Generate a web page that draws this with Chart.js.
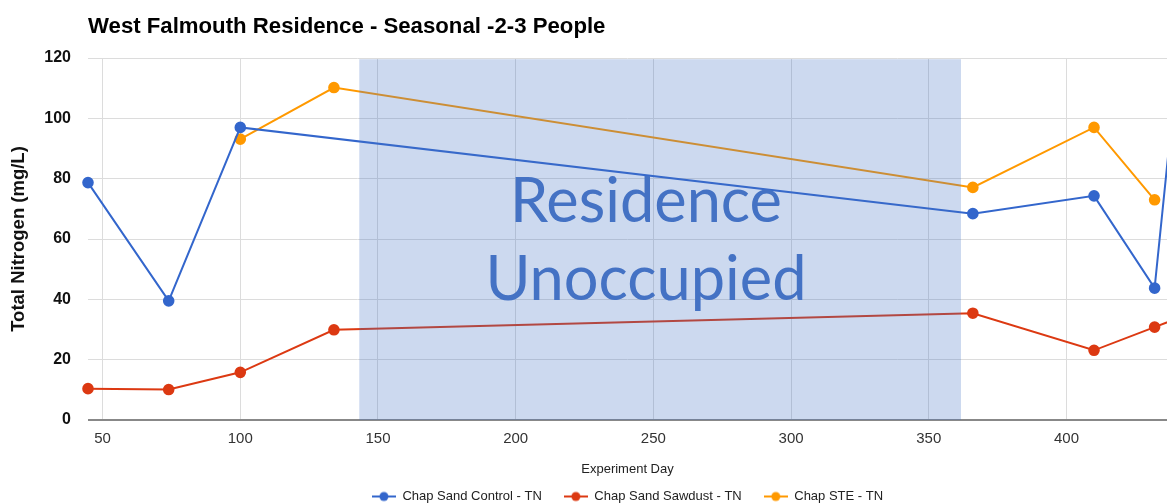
<!DOCTYPE html>
<html>
<head>
<meta charset="utf-8">
<script src="https://cdn.jsdelivr.net/npm/chart.js@4/dist/chart.umd.min.js"></script>
<style>
  html, body { margin: 0; padding: 0; background: #fff; }
  #wrap { width: 1167px; height: 504px; position: relative; }
</style>
</head>
<body>
<div id="wrap"><canvas id="c" width="1167" height="504"></canvas></div>
<script>
// ---- data ----
const chartTitle = 'West Falmouth Residence - Seasonal -2-3 People';
const days      = [44.7, 74, 100, 134, 366, 410, 432, 440];
const controlTN = [78.7, 39.5, 97.0, null, 68.4, 74.3, 43.7, 115.3];
const sawdustTN = [10.4, 10.1, 15.8, 29.9, 35.4, 23.1, 30.8, 33.6];
const steTN     = [null, null, 93.1, 110.2, 77.1, 97.0, 73.0, null];
const seriesNames = ['Chap Sand Control - TN', 'Chap Sand Sawdust - TN', 'Chap STE - TN'];
const xRange = [44.7, 436.5];
const yRange = [0, 120];
const xStep = 50;
const yStep = 20;
const unoccupiedSpan = [143.2, 361.7];
const unoccupiedLabel = ['Residence', 'Unoccupied'];

const colors = ['#3366CC', '#DC3912', '#FF9900'];
const FONT = "Arial, 'Liberation Sans', sans-serif";

function toPoints(vals) {
  const out = [];
  vals.forEach((v, i) => { if (v !== null) out.push({x: days[i], y: v}); });
  return out;
}

function legendIcon(color) {
  const cv = document.createElement('canvas');
  cv.width = 24; cv.height = 12;
  const g = cv.getContext('2d');
  g.strokeStyle = color; g.lineWidth = 2;
  g.beginPath(); g.moveTo(0, 6); g.lineTo(24, 6); g.stroke();
  g.fillStyle = color;
  g.beginPath(); g.arc(12, 6, 4.5, 0, Math.PI * 2); g.fill();
  return cv;
}
const icons = colors.map(legendIcon);

const overlayPlugin = {
  id: 'overlay',
  afterDatasetsDraw(chart) {
    const {ctx, scales} = chart;
    const x0 = scales.x.getPixelForValue(unoccupiedSpan[0]);
    const x1 = scales.x.getPixelForValue(unoccupiedSpan[1]);
    const yTop = scales.y.getPixelForValue(119.6);
    const yBot = scales.y.getPixelForValue(0);
    ctx.save();
    ctx.fillStyle = 'rgba(68,114,196,0.27)';
    ctx.fillRect(x0, yTop, x1 - x0, yBot - yTop);
    ctx.fillStyle = '#4472C4';
    ctx.textAlign = 'center';
    ctx.textBaseline = 'alphabetic';
    ctx.font = "100px Lato, 'Open Sans', sans-serif";
    const w = ctx.measureText(unoccupiedLabel[0]).width;
    const size = 100 * 272 / w;
    ctx.font = size.toFixed(1) + "px Lato, 'Open Sans', sans-serif";
    const cx = scales.x.getPixelForValue(247.3);
    ctx.fillText(unoccupiedLabel[0], cx, scales.y.getPixelForValue(65.7));
    ctx.fillText(unoccupiedLabel[1], cx, scales.y.getPixelForValue(39.8));
    ctx.restore();
  },
  afterDraw(chart) {
    const {ctx, chartArea} = chart;
    ctx.save();
    ctx.fillStyle = '#000';
    ctx.font = 'bold 22.2px ' + FONT;
    ctx.textAlign = 'left';
    ctx.textBaseline = 'alphabetic';
    ctx.fillText(chartTitle, chartArea.left, 33);
    ctx.restore();
  }
};

const mkSet = (label, vals, i) => ({
  label, data: toPoints(vals),
  borderColor: colors[i], backgroundColor: colors[i],
  pointBackgroundColor: colors[i], pointBorderColor: colors[i],
  borderWidth: 2, pointRadius: 4.8, pointHoverRadius: 5,
  tension: 0, spanGaps: true, fill: false,
  clip: { left: 8, top: 8, right: 0, bottom: 8 }
});

new Chart(document.getElementById('c'), {
  type: 'line',
  data: {
    datasets: [
      mkSet(seriesNames[0], controlTN, 0),
      mkSet(seriesNames[1], sawdustTN, 1),
      mkSet(seriesNames[2], steTN, 2)
    ]
  },
  options: {
    responsive: false,
    animation: false,
    layout: { autoPadding: false, padding: { top: 58, left: 0, right: 0, bottom: 0 } },
    plugins: {
      title: { display: false },
      tooltip: { enabled: false },
      legend: {
        position: 'bottom',
        fullSize: false,
        maxHeight: 36,
        labels: {
          usePointStyle: true,
          pointStyleWidth: 24,
          boxHeight: 12,
          padding: 22,
          color: '#222',
          font: { family: FONT, size: 13 },
          generateLabels(chart) {
            return chart.data.datasets.map((ds, i) => ({
              text: ds.label, pointStyle: icons[i], fillStyle: colors[i],
              strokeStyle: colors[i], lineWidth: 0, hidden: false, datasetIndex: i, fontColor: '#222'
            }));
          }
        }
      }
    },
    scales: {
      x: {
        type: 'linear',
        min: xRange[0], max: xRange[1],
        border: { display: false },
        grid: { color: '#dcdcdc', lineWidth: 1, drawTicks: false },
        ticks: { stepSize: xStep, includeBounds: false, padding: 10, color: '#333', font: { family: FONT, size: 15 } },
        title: { display: true, text: 'Experiment Day', color: '#222', font: { family: FONT, size: 13 }, padding: { top: 0, bottom: -9 } },
        afterFit(scale) { scale.height = 48; scale.paddingRight = 0; scale.paddingLeft = 0; }
      },
      y: {
        min: yRange[0], max: yRange[1],
        border: { display: false },
        grid: {
          drawTicks: false,
          color: ctx => ctx.tick && ctx.tick.value === 0 ? '#888' : '#dcdcdc',
          lineWidth: ctx => ctx.tick && ctx.tick.value === 0 ? 2 : 1
        },
        ticks: { stepSize: yStep, padding: 17, color: '#111', font: { family: FONT, size: 16, weight: 'bold' } },
        title: { display: true, text: 'Total Nitrogen (mg/L)', color: '#111', font: { family: FONT, size: 18.5, weight: 'bold' }, padding: { top: 8, bottom: 0 } },
        afterFit(scale) { scale.width = 88; }
      }
    }
  },
  plugins: [overlayPlugin]
});
</script>
</body>
</html>
